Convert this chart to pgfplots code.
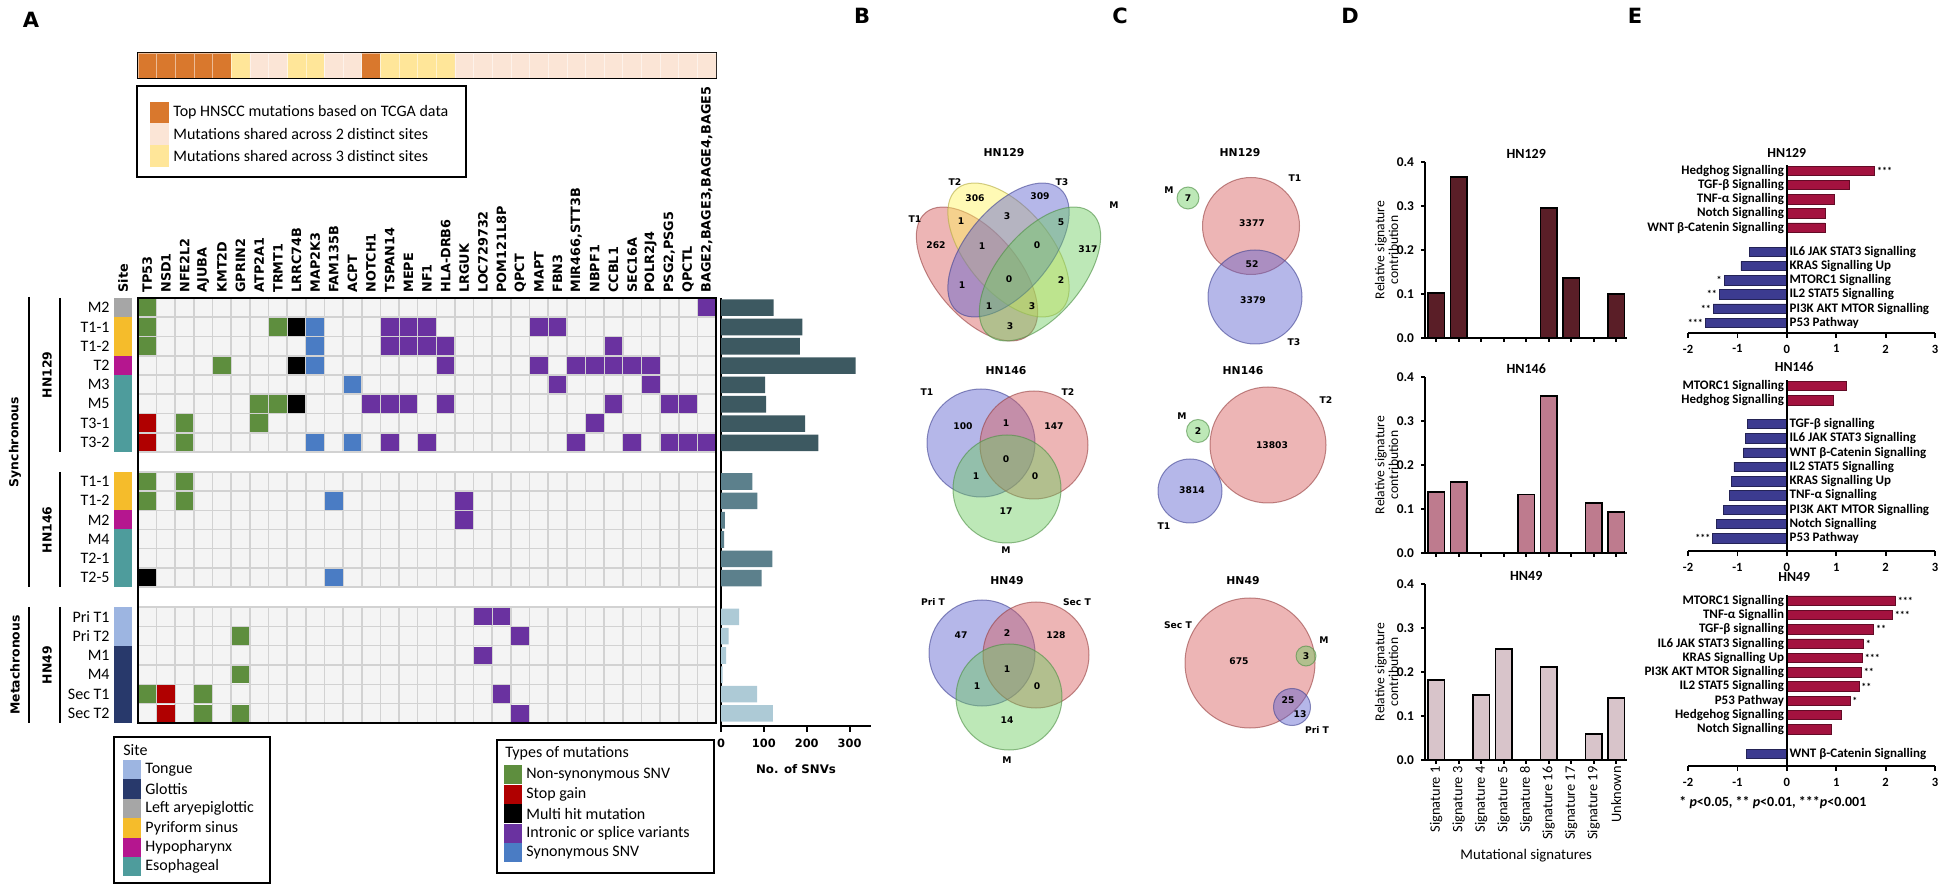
\documentclass[border=0pt]{standalone}
\usepackage{pgfplots}
\pgfplotsset{compat=1.18}
\usepackage{fontspec}
\setmainfont{Carlito}
\newfontfamily\vd{DejaVu Sans}

\definecolor{tcga}{HTML}{D9782D}
\definecolor{share2}{HTML}{FBE5D6}
\definecolor{share3}{HTML}{FFE699}
\definecolor{stLeft}{HTML}{A6A6A6}
\definecolor{stPyr}{HTML}{F5BC2B}
\definecolor{stHypo}{HTML}{B5168F}
\definecolor{stEso}{HTML}{4E9C9C}
\definecolor{stTongue}{HTML}{9DB5E1}
\definecolor{stGlot}{HTML}{28396B}
\definecolor{mNon}{HTML}{5E8E3E}
\definecolor{mStop}{HTML}{B00000}
\definecolor{mIntr}{HTML}{6A32A0}
\definecolor{mSyn}{HTML}{4A7CC4}
\definecolor{cellbg}{HTML}{F4F4F4}
\definecolor{cellln}{HTML}{D2D2D2}
\definecolor{snvA}{HTML}{3D5961}
\definecolor{snvB}{HTML}{5C808C}
\definecolor{snvC}{HTML}{ADCAD6}
\definecolor{sigA}{HTML}{5A1E27}
\definecolor{sigB}{HTML}{BE7B8E}
\definecolor{sigC}{HTML}{D8C4CA}
\definecolor{upR}{HTML}{A3123F}
\definecolor{dnB}{HTML}{3C3B90}
\definecolor{vRed}{HTML}{D65C5C}
\definecolor{vBlue}{HTML}{5B5FCF}
\definecolor{vGreen}{HTML}{6CCB5F}
\definecolor{vYellow}{HTML}{FFF35C}

\newcommand{\fs}[1]{\fontsize{#1}{#1}\selectfont}
% labels of panel E
\newcommand{\labL}[2]{\node[anchor=east,inner sep=1.2pt,font=\bfseries\fs{6.5}] at (axis cs:0,#1) {#2};}
\newcommand{\labR}[2]{\node[anchor=west,inner sep=1.2pt,font=\bfseries\fs{6.5}] at (axis cs:0,#1) {#2};}
\newcommand{\starR}[3]{\node[anchor=west,inner sep=1pt,font=\bfseries\fs{5}] at (axis cs:#1,#2) {#3};}
\newcommand{\starL}[3]{\node[anchor=east,inner sep=1pt,font=\bfseries\fs{5}] at (axis cs:#1,#2) {#3};}
% page layer helpers (pixel units)
\newcommand{\vnum}[3]{\node[vn] at (#1,#2) {#3};}
\newcommand{\sw}[4]{\fill[#1] (#2,#3) rectangle (#2+18,#3+19.4); \node[anchor=west, font=\fs{8}, inner sep=0pt] at (#2+22,#3+9.7) {#4};}

\pgfplotsset{
  noarrow/.style={axis line style={-},
    every outer x axis line/.append style={-},
    every outer y axis line/.append style={-}},
  onco/.style={
    scale only axis, width=289pt, anchor=north west,
    xmin=-0.5, xmax=30.5, ymin=-0.5, y dir=reverse,
    axis background/.style={fill=cellbg},
    axis line style={draw=cellln, line width=0.7pt},
    xtick={0,...,30}, xticklabels={},
    minor xtick={0.5,1.5,...,29.5}, xminorgrids, yminorgrids,
    minor grid style={draw=cellln, line width=0.8pt},
    tick style={draw=none},
    yticklabel style={font=\fs{8}, inner sep=0pt, xshift=-14pt},
  },
  mut/.style={only marks, mark=square*, mark size=4.15pt, color=#1, mark options={draw=#1, fill=#1, line width=0pt}},
  sigax/.style={
    scale only axis, width=101.25pt, height=88pt, anchor=south west,
    xmin=-0.5, xmax=8.5, ymin=0, ymax=0.4, clip=false,
    axis lines=left, noarrow, axis line style={line width=0.9pt},
    xtick={0,...,8}, xticklabels={}, ytick={0,0.1,0.2,0.3,0.4},
    tick align=outside, major tick length=2pt, tick style={line width=0.9pt, black},
    yticklabel style={font=\bfseries\fs{6.7}, /pgf/number format/assume math mode=true,
      /pgf/number format/fixed, /pgf/number format/fixed zerofill, /pgf/number format/precision=1},
    ylabel={Relative signature\\contribution},
    ylabel style={at={(axis description cs:-0.19,0.5)}, anchor=center, align=center, font=\fs{6.8}},
    title style={font=\bfseries\fs{7}, at={(axis description cs:0.5,1)}, anchor=center, yshift=-2pt},
  },
  eax/.style={
    scale only axis, width=123.5pt, anchor=north west,
    xmin=-2, xmax=3, ymax=0.55, clip=false,
    axis x line=bottom, axis y line=none, noarrow, axis line style={line width=0.9pt},
    xtick={-2,-1,0,1,2,3}, ytick=\empty,
    tick align=outside, major tick length=2.5pt, tick style={line width=0.9pt, black},
    xticklabel style={font=\bfseries\fs{6.3}, /pgf/number format/assume math mode=true},
  },
  ebar/.style={xbar, bar shift=0pt, bar width=0.66, fill=#1, draw=#1!60!black, line width=0.3pt},
}

\tikzset{vn/.style={font=\vd\bfseries\fs{4.6}, inner sep=0pt},
  vt/.style={font=\vd\bfseries\fs{5.4}, inner sep=0pt},
  venn/.style={fill=#1, fill opacity=0.45, draw=#1!70!black, draw opacity=0.6, line width=0.5pt}}

\begin{document}
\begin{tikzpicture}
\useasboundingbox (0,0) rectangle (974.5pt,446pt);

% ---------- A: top annotation bar
\begin{axis}[at={(69pt,419.5pt)}, anchor=north west, scale only axis, width=289pt, height=12.5pt,
  xmin=-0.5, xmax=30.5, ymin=0, ymax=1, ticks=none, axis line style={line width=0.9pt}]
\addplot[ybar, bar width=1, bar shift=0pt, fill=tcga, draw=white, draw opacity=0.5, line width=0.3pt]
  coordinates {(0,1)(1,1)(2,1)(3,1)(4,1)(12,1)};
\addplot[ybar, bar width=1, bar shift=0pt, fill=share3, draw=white, draw opacity=0.5, line width=0.3pt]
  coordinates {(5,1)(8,1)(9,1)(13,1)(14,1)(15,1)(16,1)};
\addplot[ybar, bar width=1, bar shift=0pt, fill=share2, draw=white, draw opacity=0.5, line width=0.3pt]
  coordinates {(6,1)(7,1)(10,1)(11,1)(17,1)(18,1)(19,1)(20,1)(21,1)(22,1)(23,1)(24,1)
               (25,1)(26,1)(27,1)(28,1)(29,1)(30,1)};
\end{axis}

% ---------- A: HN129
\begin{axis}[onco, at={(69pt,297pt)}, height=77pt, ymax=7.5,
  ytick={0,...,7}, yticklabels={M2,T1-1,T1-2,T2,M3,M5,T3-1,T3-2},
  minor ytick={0.5,1.5,...,6.5},
  xticklabel pos=upper,
  xticklabels={TP53,NSD1,NFE2L2,AJUBA,KMT2D,GPRIN2,ATP2A1,TRMT1,LRRC74B,MAP2K3,FAM135B,ACPT,NOTCH1,
    TSPAN14,MEPE,NF1,HLA-DRB6,LRGUK,LOC729732,POM121L8P,QPCT,MAPT,FBN3,{MIR466,STT3B},NBPF1,CCBL1,
    SEC16A,POLR2J4,{PSG2,PSG5},QPCTL,{BAGE2,BAGE3,BAGE4,BAGE5}},
  xticklabel style={font=\vd\bfseries\fs{6.4}, rotate=90, anchor=west, inner sep=0pt},
  xticklabel shift=2.5pt]
\addplot[mut=mNon] coordinates {(0,0)(0,1)(7,1)(0,2)(4,3)(6,5)(7,5)(2,6)(6,6)(2,7)};
\addplot[mut=mStop] coordinates {(0,6)(0,7)};
\addplot[mut=black] coordinates {(8,1)(8,3)(8,5)};
\addplot[mut=mSyn] coordinates {(9,1)(9,2)(9,3)(11,4)(9,7)(11,7)};
\addplot[mut=mIntr] coordinates {(30,0)(13,1)(14,1)(15,1)(21,1)(22,1)(13,2)(14,2)(15,2)(16,2)(25,2)
  (16,3)(21,3)(23,3)(24,3)(25,3)(26,3)(27,3)(22,4)(27,4)(12,5)(13,5)(14,5)(16,5)(25,5)(28,5)(29,5)
  (24,6)(13,7)(15,7)(23,7)(26,7)(28,7)(29,7)(30,7)};
\end{axis}

% ---------- A: HN146
\begin{axis}[onco, at={(69pt,210pt)}, height=57.5pt, ymax=5.5,
  ytick={0,...,5}, yticklabels={T1-1,T1-2,M2,M4,T2-1,T2-5}, minor ytick={0.5,1.5,...,4.5}]
\addplot[mut=mNon] coordinates {(0,0)(2,0)(0,1)(2,1)};
\addplot[mut=black] coordinates {(0,5)};
\addplot[mut=mSyn] coordinates {(10,1)(10,5)};
\addplot[mut=mIntr] coordinates {(17,1)(17,2)};
\end{axis}

% ---------- A: HN49
\begin{axis}[onco, at={(69pt,142.5pt)}, height=58pt, ymax=5.5,
  ytick={0,...,5}, yticklabels={Pri T1,Pri T2,M1,M4,Sec T1,Sec T2}, minor ytick={0.5,1.5,...,4.5}]
\addplot[mut=mNon] coordinates {(5,1)(5,3)(0,4)(3,4)(3,5)(5,5)};
\addplot[mut=mStop] coordinates {(1,4)(1,5)};
\addplot[mut=mIntr] coordinates {(18,0)(19,0)(20,1)(18,2)(19,4)(20,5)};
\end{axis}

% ---------- A: number of SNVs
\begin{axis}[at={(360.5pt,83pt)}, anchor=south west, scale only axis, width=75pt, height=214pt,
  xmin=0, xmax=350, ymin=-0.65, ymax=21.5,
  axis x line=bottom, axis y line=left, noarrow, axis line style={line width=1pt},
  xtick={0,100,200,300}, ytick=\empty, tick align=outside, major tick length=3pt,
  tick style={line width=1pt, black},
  xticklabel style={font=\vd\bfseries\fs{5.7}, /pgf/number format/assume math mode=true},
  xlabel={No. of SNVs},
  xlabel style={font=\vd\bfseries\fs{5.9}, at={(axis description cs:0.5,0)}, anchor=center, yshift=-21.5pt}]
\addplot[xbar, bar shift=0pt, bar width=0.86, fill=snvA, draw=none]
  coordinates {(123,21)(190,20)(184,19)(314,18)(103,17)(105,16)(196,15)(227,14)};
\addplot[xbar, bar shift=0pt, bar width=0.86, fill=snvB, draw=none]
  coordinates {(73,12)(85,11)(9,10)(7,9)(120,8)(95,7)};
\addplot[xbar, bar shift=0pt, bar width=0.86, fill=snvC, draw=none]
  coordinates {(42,5)(18,4)(12,3)(4,2)(84,1)(121,0)};
\end{axis}

% ---------- D: mutational signatures
\begin{axis}[sigax, at={(712.5pt,277pt)}, title={HN129}]
\addplot[ybar, bar shift=0pt, bar width=0.74, fill=sigA, draw=black, line width=0.9pt]
  coordinates {(0,0.102)(1,0.366)(5,0.296)(6,0.136)(8,0.0997)};
\end{axis}
\begin{axis}[sigax, at={(712.5pt,169.5pt)}, title={HN146}]
\addplot[ybar, bar shift=0pt, bar width=0.74, fill=sigB, draw=black, line width=0.9pt]
  coordinates {(0,0.1385)(1,0.162)(4,0.133)(5,0.356)(7,0.114)(8,0.093)};
\end{axis}
\begin{axis}[sigax, at={(712.5pt,66pt)}, title={HN49},
  xticklabels={Signature 1,Signature 3,Signature 4,Signature 5,Signature 8,Signature 16,
    Signature 17,Signature 19,Unknown},
  xticklabel style={rotate=90, anchor=east, font=\fs{7.2}, inner sep=1pt},
  xlabel={Mutational signatures},
  xlabel style={font=\fs{7.4}, at={(axis description cs:0.5,-0.545)}, anchor=center}]
\addplot[ybar, bar shift=0pt, bar width=0.74, fill=sigC, draw=black, line width=0.9pt]
  coordinates {(0,0.1825)(2,0.1476)(3,0.252)(5,0.211)(7,0.0595)(8,0.14)};
\end{axis}

% ---------- E: pathways HN129
\begin{axis}[eax, at={(844pt,364.5pt)}, height=84.85pt, ymin=-11.4]
\addplot[ebar=upR] coordinates {(1.78,0)(1.27,-1)(0.97,-2)(0.77,-3)(0.77,-4)};
\addplot[ebar=dnB] coordinates {(-0.76,-5.7)(-0.93,-6.7)(-1.27,-7.7)(-1.37,-8.7)(-1.49,-9.7)(-1.65,-10.7)};
\draw[line width=0.9pt] (axis cs:0,0.4) -- (axis cs:0,-11.4);
\node[font=\bfseries\fs{6.9}] at (axis cs:0,1.27) {HN129};
\labL{0}{Hedghog Signalling}
\labL{-1}{TGF-β Signalling}
\labL{-2}{TNF-α Signalling}
\labL{-3}{Notch Signalling}
\labL{-4}{WNT β-Catenin Signalling}
\labR{-5.7}{IL6 JAK STAT3 Signalling}
\labR{-6.7}{KRAS Signalling Up}
\labR{-7.7}{MTORC1 Signalling}
\labR{-8.7}{IL2 STAT5 Signalling}
\labR{-9.7}{PI3K AKT MTOR Signalling}
\labR{-10.7}{P53 Pathway}
\starR{1.78}{0}{***}
\starL{-1.27}{-7.7}{*}
\starL{-1.37}{-8.7}{**}
\starL{-1.49}{-9.7}{**}
\starL{-1.65}{-10.7}{***}
\end{axis}

% ---------- E: pathways HN146
\begin{axis}[eax, at={(844pt,256.9pt)}, height=86.45pt, ymin=-11.54]
\addplot[ebar=upR] coordinates {(1.2,0)(0.95,-1)};
\addplot[ebar=dnB] coordinates {(-0.8,-2.65)(-0.84,-3.65)(-0.88,-4.65)(-1.07,-5.65)(-1.12,-6.65)
  (-1.17,-7.65)(-1.28,-8.65)(-1.42,-9.65)(-1.5,-10.65)};
\draw[line width=0.9pt] (axis cs:0,0.4) -- (axis cs:0,-11.54);
\node[font=\bfseries\fs{6.9}] at (axis cs:0.15,1.33) {HN146};
\labL{0}{MTORC1 Signalling}
\labL{-1}{Hedghog Signalling}
\labR{-2.65}{TGF-β signalling}
\labR{-3.65}{IL6 JAK STAT3 Signalling}
\labR{-4.65}{WNT β-Catenin Signalling}
\labR{-5.65}{IL2 STAT5 Signalling}
\labR{-6.65}{KRAS Signalling Up}
\labR{-7.65}{TNF-α Signalling}
\labR{-8.65}{PI3K AKT MTOR Signalling}
\labR{-9.65}{Notch Signalling}
\labR{-10.65}{P53 Pathway}
\starL{-1.5}{-10.65}{***}
\end{axis}

% ---------- E: pathways HN49
\begin{axis}[eax, at={(844pt,149.6pt)}, height=86.65pt, ymin=-11.57]
\addplot[ebar=upR] coordinates {(2.2,0)(2.14,-1)(1.76,-2)(1.55,-3)(1.53,-4)(1.51,-5)(1.46,-6)
  (1.28,-7)(1.11,-8)(0.9,-9)};
\addplot[ebar=dnB] coordinates {(-0.82,-10.7)};
\draw[line width=0.9pt] (axis cs:0,0.4) -- (axis cs:0,-11.57);
\node[font=\bfseries\fs{6.9}] at (axis cs:0.15,1.65) {HN49};
\labL{0}{MTORC1 Signalling}
\labL{-1}{TNF-α Signallin}
\labL{-2}{TGF-β signalling}
\labL{-3}{IL6 JAK STAT3 Signalling}
\labL{-4}{KRAS Signalling Up}
\labL{-5}{PI3K AKT MTOR Signalling}
\labL{-6}{IL2 STAT5 Signalling}
\labL{-7}{P53 Pathway}
\labL{-8}{Hedgehog Signalling}
\labL{-9}{Notch Signalling}
\labR{-10.7}{WNT β-Catenin Signalling}
\starR{2.2}{0}{***}
\starR{2.14}{-1}{***}
\starR{1.76}{-2}{**}
\starR{1.55}{-3}{*}
\starR{1.53}{-4}{***}
\starR{1.51}{-5}{**}
\starR{1.46}{-6}{**}
\starR{1.28}{-7}{*}
\end{axis}

% ---------- page layer in pixel units: legends, strips, Venn diagrams
\begin{axis}[at={(0pt,0pt)}, anchor=south west, scale only axis, width=974.5pt, height=446pt,
  xmin=0, xmax=1949, ymin=0, ymax=892, y dir=reverse, hide axis, clip=false]
% panel letters
\node[font=\vd\bfseries\fs{10.5}] at (31,20) {A};
\node[font=\vd\bfseries\fs{10.5}] at (862,16) {B};
\node[font=\vd\bfseries\fs{10.5}] at (1120,16) {C};
\node[font=\vd\bfseries\fs{10.5}] at (1350,16) {D};
\node[font=\vd\bfseries\fs{10.5}] at (1635,16) {E};
% top legend
\draw[line width=1pt] (137,86) rectangle (466,177);
\fill[tcga] (150,102) rectangle (169,123);
\fill[share2] (150,123) rectangle (169,145);
\fill[share3] (150,145) rectangle (169,167);
\node[anchor=west, font=\fs{8}, inner sep=0pt] at (173,112) {Top HNSCC mutations based on TCGA data};
\node[anchor=west, font=\fs{8}, inner sep=0pt] at (173,134) {Mutations shared across 2 distinct sites};
\node[anchor=west, font=\fs{8}, inner sep=0pt] at (173,156) {Mutations shared across 3 distinct sites};
% site strip
\node[rotate=90, anchor=west, font=\vd\bfseries\fs{6.4}, inner sep=0pt] at (123,293) {Site};
\fill[stLeft] (114,298) rectangle (132,317.25);
\fill[stPyr] (114,317.25) rectangle (132,355.75);
\fill[stHypo] (114,355.75) rectangle (132,375);
\fill[stEso] (114,375) rectangle (132,452);
\fill[stPyr] (114,472) rectangle (132,510.3);
\fill[stHypo] (114,510.3) rectangle (132,529.5);
\fill[stEso] (114,529.5) rectangle (132,587);
\fill[stTongue] (114,607) rectangle (132,645.7);
\fill[stGlot] (114,645.7) rectangle (132,723);
% frame of the matrix
\draw[line width=1.1pt] (138,298) rectangle (716,723);
% groups
\draw[line width=1pt] (60,298) -- (60,452);
\draw[line width=1pt] (60,472) -- (60,587);
\draw[line width=1pt] (60,607) -- (60,723);
\draw[line width=1pt] (29,297) -- (29,587);
\draw[line width=1pt] (29,607) -- (29,723);
\node[rotate=90, font=\vd\bfseries\fs{6.2}] at (47,375) {HN129};
\node[rotate=90, font=\vd\bfseries\fs{6.2}] at (47,530) {HN146};
\node[rotate=90, font=\vd\bfseries\fs{6.2}] at (47,665) {HN49};
\node[rotate=90, font=\vd\bfseries\fs{6.2}] at (15,442) {Synchronous};
\node[rotate=90, font=\vd\bfseries\fs{6.2}] at (15,665) {Metachronous};
% site legend
\draw[line width=1pt] (114,737) rectangle (270,883);
\node[anchor=west, font=\fs{8}, inner sep=0pt] at (123,750) {Site};
\sw{stTongue}{123}{760}{Tongue}
\sw{stGlot}{123}{779.4}{Glottis}
\sw{stLeft}{123}{798.8}{Left aryepiglottic}
\sw{stPyr}{123}{818.2}{Pyriform sinus}
\sw{stHypo}{123}{837.6}{Hypopharynx}
\sw{stEso}{123}{857}{Esophageal}
% mutation type legend
\draw[line width=1pt] (497,740) rectangle (714,873);
\node[anchor=west, font=\fs{8}, inner sep=0pt] at (505,753) {Types of mutations};
\sw{mNon}{504}{765}{Non-synonymous SNV}
\sw{mStop}{504}{784.5}{Stop gain}
\sw{black}{504}{804}{Multi hit mutation}
\sw{mIntr}{504}{823.5}{Intronic or splice variants}
\sw{mSyn}{504}{843}{Synonymous SNV}

% ----- B: Venn HN129
\node[vt] at (1004,153) {HN129};
\draw[venn=vRed, rotate around={-50:(977,274)}] (977,274) ellipse [x radius=40pt, y radius=21pt];
\draw[venn=vYellow, rotate around={-50:(1008.5,250)}] (1008.5,250) ellipse [x radius=40pt, y radius=21pt];
\draw[venn=vBlue, rotate around={50:(1008.5,250)}] (1008.5,250) ellipse [x radius=40pt, y radius=21pt];
\draw[venn=vGreen, rotate around={50:(1040,274)}] (1040,274) ellipse [x radius=40pt, y radius=21pt];
\vnum{915}{219}{T1}
\vnum{955}{182}{T2}
\vnum{1062}{182}{T3}
\vnum{1114}{205}{M}
\vnum{975}{198}{306}
\vnum{1040}{196}{309}
\vnum{961}{221}{1}
\vnum{1007}{216}{3}
\vnum{1061}{222}{5}
\vnum{936}{245}{262}
\vnum{982}{246}{1}
\vnum{1037}{245}{0}
\vnum{1088}{249}{317}
\vnum{962}{285}{1}
\vnum{1009}{279}{0}
\vnum{1061}{280}{2}
\vnum{989}{306}{1}
\vnum{1032}{306}{3}
\vnum{1010}{326}{3}
% ----- B: Venn HN146
\node[vt] at (1006,371) {HN146};
\draw[venn=vBlue] (981,443) circle [radius=27pt];
\draw[venn=vRed] (1034,445) circle [radius=27pt];
\draw[venn=vGreen] (1007,489) circle [radius=27pt];
\vnum{927}{392}{T1}
\vnum{1068}{392}{T2}
\vnum{1006}{550}{M}
\vnum{963}{426}{100}
\vnum{1006}{423}{1}
\vnum{1054}{426}{147}
\vnum{1006}{459}{0}
\vnum{976}{476}{1}
\vnum{1035}{476}{0}
\vnum{1006}{511}{17}
% ----- B: Venn HN49
\node[vt] at (1007,581) {HN49};
\draw[venn=vBlue] (982,653) circle [radius=26.5pt];
\draw[venn=vRed] (1036,655) circle [radius=26.5pt];
\draw[venn=vGreen] (1009,697) circle [radius=26.5pt];
\vnum{933}{602}{Pri T}
\vnum{1077}{602}{Sec T}
\vnum{1007}{760}{M}
\vnum{961}{635}{47}
\vnum{1007}{633}{2}
\vnum{1056}{635}{128}
\vnum{1007}{669}{1}
\vnum{977}{686}{1}
\vnum{1037}{686}{0}
\vnum{1007}{720}{14}

% ----- C: proportional diagrams
\node[vt] at (1240,153) {HN129};
\draw[venn=vGreen] (1188,198) circle [radius=5.5pt];
\draw[venn=vRed] (1251,226) circle [radius=24.25pt];
\draw[venn=vBlue] (1255,297) circle [radius=23.5pt];
\vnum{1169}{190}{M}
\vnum{1295}{178}{T1}
\vnum{1294}{342}{T3}
\vnum{1188}{198}{7}
\vnum{1252}{223}{3377}
\vnum{1252}{264}{52}
\vnum{1253}{300}{3379}

\node[vt] at (1243,371) {HN146};
\draw[venn=vGreen] (1198,431) circle [radius=5.75pt];
\draw[venn=vRed] (1268,445) circle [radius=29pt];
\draw[venn=vBlue] (1190,491) circle [radius=16pt];
\vnum{1182}{416}{M}
\vnum{1326}{400}{T2}
\vnum{1164}{526}{T1}
\vnum{1198}{431}{2}
\vnum{1272}{445}{13803}
\vnum{1192}{490}{3814}

\node[vt] at (1243,581) {HN49};
\draw[venn=vRed] (1250,663) circle [radius=32.5pt];
\draw[venn=vGreen] (1306,656) circle [radius=5pt];
\draw[venn=vBlue] (1292,707) circle [radius=9.25pt];
\vnum{1178}{625}{Sec T}
\vnum{1324}{640}{M}
\vnum{1317}{730}{Pri T}
\vnum{1239}{661}{675}
\vnum{1306}{656}{3}
\vnum{1288}{700}{25}
\vnum{1300}{714}{13}

% ----- E footnote
\node[anchor=west, font=\bfseries\fs{7}, inner sep=0pt] at (1679,803)
  {* \textit{p}<0.05, ** \textit{p}<0.01, ***\textit{p}<0.001};
\end{axis}
\end{tikzpicture}
\end{document}
